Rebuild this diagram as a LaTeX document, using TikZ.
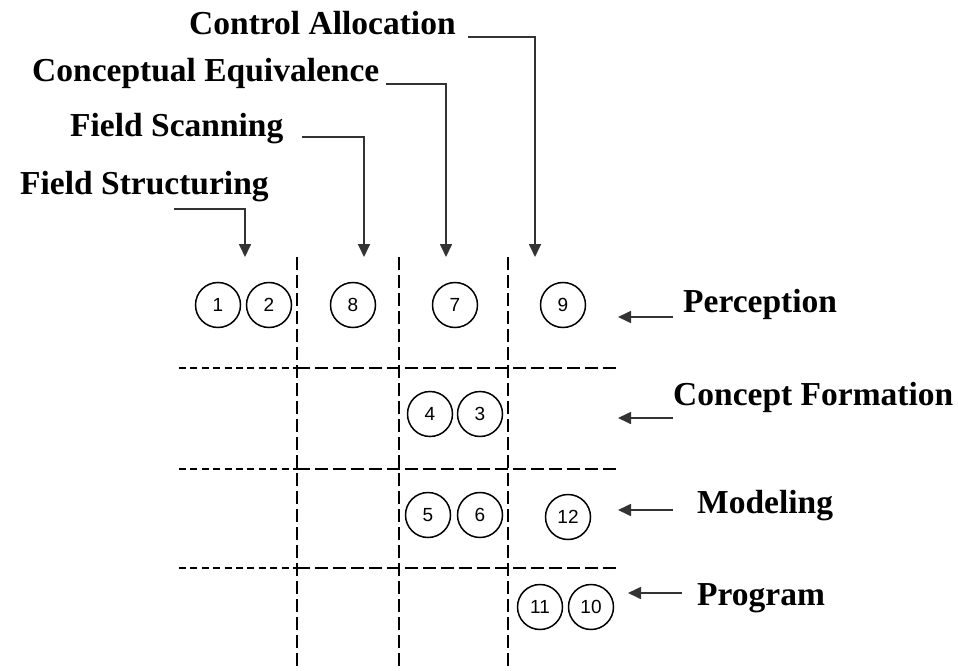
\documentclass[tikz,border=0pt]{standalone}
\usepackage{fontspec}
\setmainfont{Liberation Serif}
\newfontfamily\numfont{Liberation Sans}
\usetikzlibrary{arrows.meta}
\begin{document}
\begin{tikzpicture}[x=1pt,y=-1pt,
  lbl/.style={inner sep=0pt, anchor=base west, font=\fontsize{33.5}{40}\selectfont\bfseries},
  num/.style={circle, draw, line width=1.5pt, minimum size=45pt, inner sep=0pt, font=\numfont\fontsize{19}{19}\selectfont},
  gridline/.style={line width=1.8pt, dash pattern=on 13pt off 5pt},
  gridfine/.style={line width=1.8pt, dash pattern=on 7pt off 4.4pt},
  arr/.style={line width=1.7pt, draw=black!80, -{Triangle[length=13pt,width=12pt]}}
]
\useasboundingbox (0,0) rectangle (958,671);

% top labels
\node[lbl] (ca)  at (189,35)  {Control Allocation};
\node[lbl] (ce)  at (32,82)   {Conceptual Equivalence};
\node[lbl] (fsc) at (70,137)  {Field Scanning};
\node[lbl] (fst) at (20,195)  {Field Structuring};

\coordinate (caS)  at (468,37);  \coordinate (caT)  at (535,257);
\coordinate (ceS)  at (386,84);  \coordinate (ceT)  at (446,257);
\coordinate (fscS) at (302,137); \coordinate (fscT) at (364,257);
\coordinate (fstS) at (174,209); \coordinate (fstT) at (245,257);
\draw[arr] (caS) -| (caT);
\draw[arr] (ceS) -| (ceT);
\draw[arr] (fscS) -| (fscT);
\draw[arr] (fstS) -| (fstT);

% grid
\foreach \x in {297,399,508} \draw[gridline] (\x,257) -- (\x,671);
\foreach \y in {368,469,568} {
  \draw[gridfine] (179,\y) -- (297,\y);
  \draw[gridline] (297,\y) -- (617,\y);
}

% circles
\node[num] (n1)  at (218,305) {1};
\node[num] (n2)  at (269,305) {2};
\node[num] (n8)  at (353,305) {8};
\node[num] (n7)  at (455,305) {7};
\node[num] (n9)  at (563,305) {9};
\node[num] (n4)  at (430,414) {4};
\node[num] (n3)  at (480,414) {3};
\node[num] (n5)  at (428,515) {5};
\node[num] (n6)  at (480,515) {6};
\node[num] (n12) at (568,517) {12};
\node[num] (n11) at (540,607) {11};
\node[num] (n10) at (591,607) {10};

% right labels
\node[lbl] (perc) at (683,312) {Perception};
\node[lbl] (cf)   at (673,405) {Concept Formation};
\node[lbl] (mod)  at (697,513) {Modeling};
\node[lbl] (prog) at (697,605) {Program};

\coordinate (percS) at (673,317); \coordinate (percT) at (618,317);
\coordinate (cfS)   at (673,418); \coordinate (cfT)   at (618,418);
\coordinate (modS)  at (673,510); \coordinate (modT)  at (618,510);
\coordinate (progS) at (682,593); \coordinate (progT) at (628,593);
\draw[arr] (percS) -- (percT);
\draw[arr] (cfS) -- (cfT);
\draw[arr] (modS) -- (modT);
\draw[arr] (progS) -- (progT);
\end{tikzpicture}
\end{document}
